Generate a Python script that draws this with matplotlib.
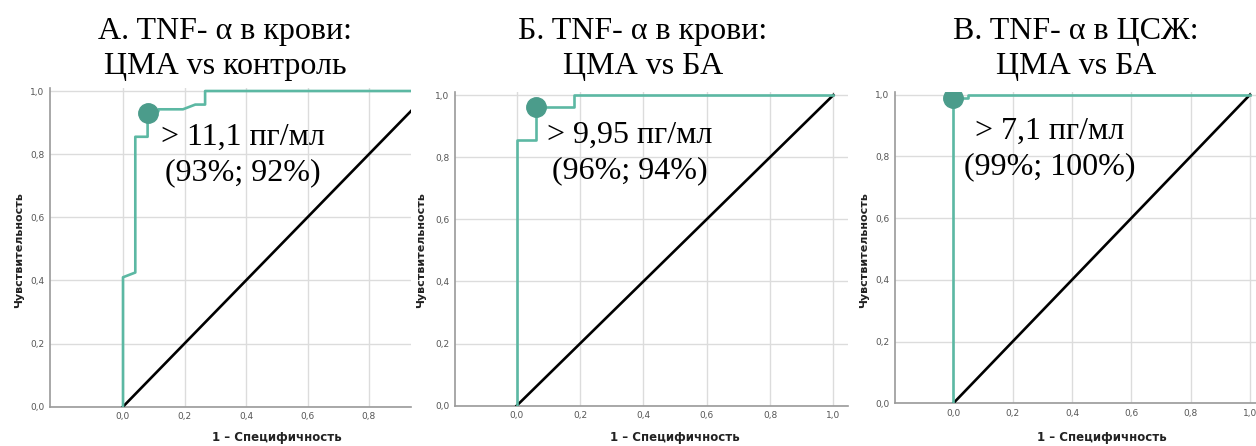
import matplotlib
matplotlib.use("Agg")
import matplotlib.pyplot as plt

# ROC curves (1 - specificity, sensitivity) for the three comparisons
fprA = [0, 0, 0.04, 0.04, 0.08, 0.08, 0.115, 0.115, 0.195, 0.235, 0.267, 0.267, 1.0]
tprA = [0, 0.41, 0.425, 0.855, 0.855, 0.935, 0.935, 0.942, 0.942, 0.957, 0.957, 1.0, 1.0]
fprB = [0, 0, 0.06, 0.06, 0.18, 0.18, 1.0]
tprB = [0, 0.855, 0.855, 0.96, 0.96, 1.0, 1.0]
fprC = [0, 0, 0.05, 0.05, 1.0]
tprC = [0, 0.99, 0.99, 1.0, 1.0]

# cut-off points: sensitivity, specificity (%)
cutSens = [93, 96, 99]
cutSpec = [92, 94, 100]
cutLabels = ["> 11,1 пг/мл", "> 9,95 пг/мл", "> 7,1 пг/мл"]

titles = ["А. TNF- α в крови:\nЦМА vs контроль",
          "Б. TNF- α в крови:\nЦМА vs БА",
          "В. TNF- α в ЦСЖ:\nЦМА vs БА"]

ticks = [0.0, 0.2, 0.4, 0.6, 0.8, 1.0]
tickLabels = ["0,0", "0,2", "0,4", "0,6", "0,8", "1,0"]

W, H = 1256, 446
curveColor = "#5cb8a3"
markColor = "#4b9c8b"

# pixel layout of each panel: left, right, x=0 px, px per unit, y=0 px, y=1 px
panels = [
    dict(left=50, right=411, x0=123.0, xs=307.5, y0=406.7, y1=91.0,
         title_x=225, text_xy=(0.39, 0.796), xlabel_x=277, ylabel_x=19),
    dict(left=455, right=848, x0=516.7, xs=316.7, y0=405.7, y1=95.0,
         title_x=643, text_xy=(0.358, 0.812), xlabel_x=675, ylabel_x=421),
    dict(left=895, right=1256, x0=953.3, xs=296.7, y0=403.3, y1=94.7,
         title_x=1076, text_xy=(0.326, 0.824), xlabel_x=1102, ylabel_x=864),
]
curves = [(fprA, tprA), (fprB, tprB), (fprC, tprC)]

fig = plt.figure(figsize=(W / 100, H / 100), dpi=100)
fig.patch.set_facecolor("white")

for i, p in enumerate(panels):
    ys = p["y0"] - p["y1"]
    ytop = 1.01
    top_px = p["y0"] - ytop * ys
    ax = fig.add_axes([p["left"] / W, 1 - p["y0"] / H,
                       (p["right"] - p["left"]) / W, (p["y0"] - top_px) / H])

    ax.set_xticks(ticks)
    ax.set_xticklabels(tickLabels)
    ax.set_yticks(ticks)
    ax.set_yticklabels(tickLabels)
    ax.set_xlim((p["left"] - p["x0"]) / p["xs"], (p["right"] - p["x0"]) / p["xs"])
    ax.set_ylim(0, ytop)
    ax.tick_params(length=0, labelsize=6.5, labelcolor="#555555", pad=4)
    ax.grid(True, color="#dcdcdc", linewidth=1.0)
    ax.set_axisbelow(True)
    for side in ["top", "right"]:
        ax.spines[side].set_visible(False)
    for side in ["left", "bottom"]:
        ax.spines[side].set_color("#9a9a9a")
        ax.spines[side].set_linewidth(1.2)

    ax.plot([0, 1], [0, 1], color="black", linewidth=1.9, zorder=3)
    fpr, tpr = curves[i]
    ax.plot(fpr, tpr, color=curveColor, linewidth=1.9, zorder=4)
    ax.plot(1 - cutSpec[i] / 100, cutSens[i] / 100, "o", color=markColor,
            markersize=14, zorder=5)

    ax.text(p["text_xy"][0], p["text_xy"][1],
            "%s\n(%d%%; %d%%)" % (cutLabels[i], cutSens[i], cutSpec[i]),
            ha="center", va="center", fontsize=23, family="Liberation Serif",
            linespacing=1.3, zorder=6)

    fig.text(p["title_x"] / W, 1 - 49 / H, titles[i], ha="center", va="center",
             fontsize=23, family="Liberation Serif", linespacing=1.3)
    fig.text(p["xlabel_x"] / W, 1 - 438 / H, "1 – Специфичность", ha="center",
             va="center", fontsize=8.5, fontweight="bold", color="#222222")
    fig.text(p["ylabel_x"] / W, 1 - 250 / H, "Чувствительность", ha="center",
             va="center", rotation=90, fontsize=8, fontweight="bold",
             color="#222222")

fig.savefig("out.png", dpi=100, facecolor="white")
